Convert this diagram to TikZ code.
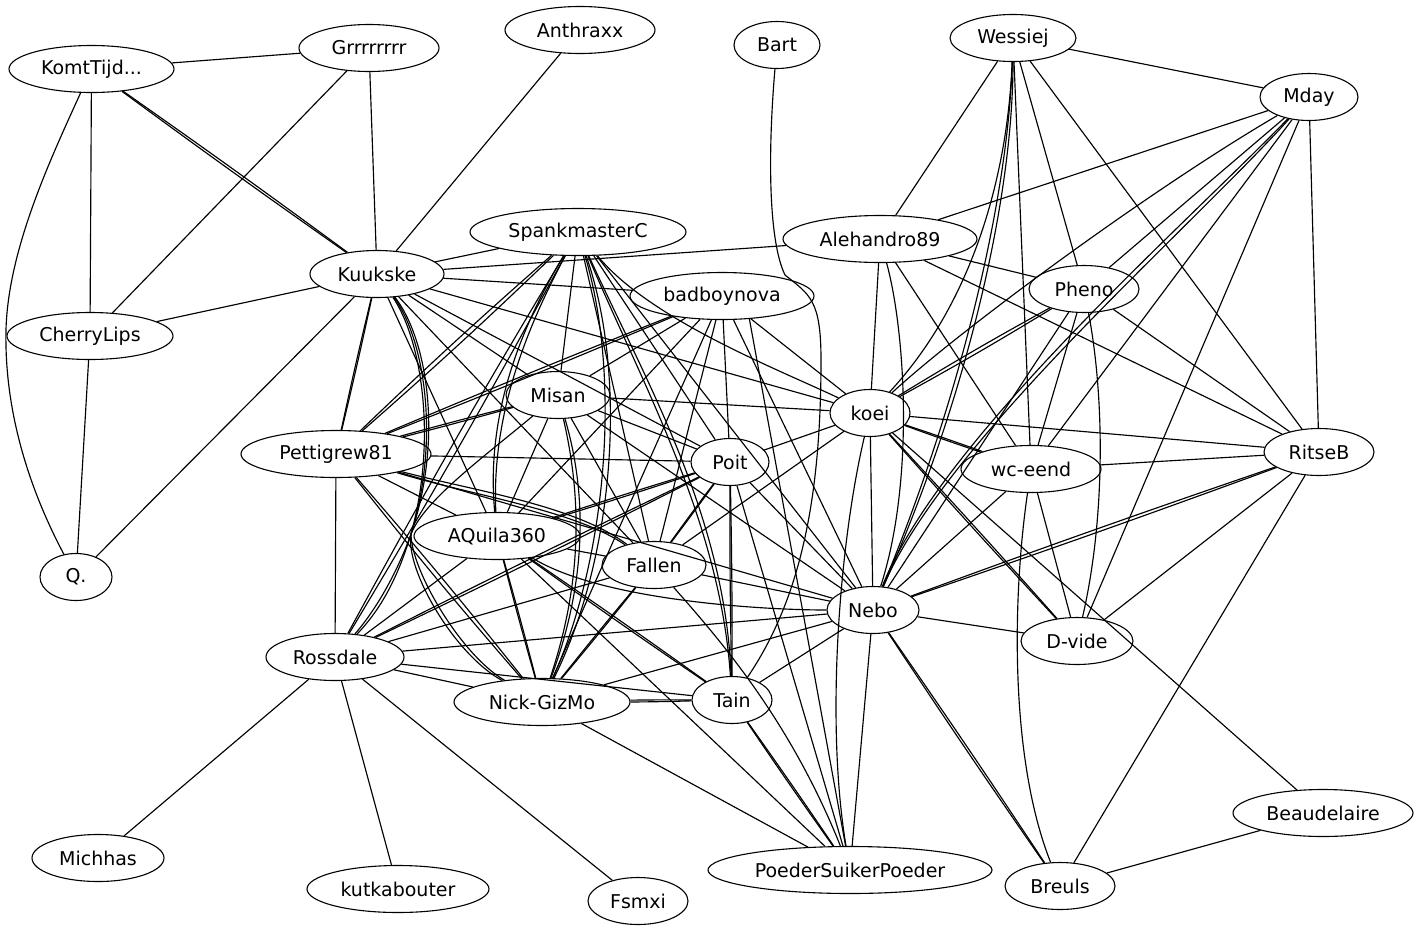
\documentclass[tikz,border=0pt]{standalone}
\usepackage{fontspec}
\setmainfont{DejaVu Sans}
\usetikzlibrary{shapes.geometric}
\newcommand\nlab[1]{\makebox[0pt]{#1}}
\newcommand\dbl[2]{\draw[e] (#1) to[bend left=0.6] (#2); \draw[e] (#1) to[bend right=0.6] (#2);}
\newcommand\dbls[2]{\draw[e] (#1) to[bend left=1.2] (#2); \draw[e] (#1) to[bend right=1.2] (#2);}
\begin{document}
\begin{tikzpicture}[x=1pt,y=-1pt,
  nd/.style={ellipse,draw,line width=1.1pt,inner sep=0pt,minimum height=47pt,font=\fontsize{19}{22}\selectfont},
  e/.style={line width=1.15pt}]
\useasboundingbox[fill=white] (0,0) rectangle (1421,932);
% nodes
\node[nd,minimum width=165pt] (kt) at (91.5,69) {\nlab{KomtTijd...}};
\node[nd,minimum width=140pt] (grr) at (369,48) {\nlab{Grrrrrrrr}};
\node[nd,minimum width=150pt] (anth) at (580,30) {\nlab{Anthraxx}};
\node[nd,minimum width=86pt] (bart) at (777,45) {\nlab{Bart}};
\node[nd,minimum width=126pt] (wes) at (1013,38) {\nlab{Wessiej}};
\node[nd,minimum width=98pt] (mday) at (1309,97) {\nlab{Mday}};
\node[nd,minimum width=216pt] (spank) at (578,232) {\nlab{SpankmasterC}};
\node[nd,minimum width=194pt] (ale) at (880,239) {\nlab{Alehandro89}};
\node[nd,minimum width=134pt] (kuuk) at (377,274) {\nlab{Kuukske}};
\node[nd,minimum width=184pt] (bad) at (722,296) {\nlab{badboynova}};
\node[nd,minimum width=110pt] (pheno) at (1084,289) {\nlab{Pheno}};
\node[nd,minimum width=166pt] (cherry) at (90,336) {\nlab{CherryLips}};
\node[nd,minimum width=104pt] (misan) at (558,395) {\nlab{Misan}};
\node[nd,minimum width=80pt] (koei) at (870,413) {\nlab{koei}};
\node[nd,minimum width=190pt] (pett) at (336,454) {\nlab{Pettigrew81}};
\node[nd,minimum width=78pt] (poit) at (730,462) {\nlab{Poit}};
\node[nd,minimum width=140pt] (wc) at (1031,469) {\nlab{wc-eend}};
\node[nd,minimum width=110pt] (rits) at (1319,452) {\nlab{RitseB}};
\node[nd,minimum width=166pt] (aq) at (497,536) {\nlab{AQuila360}};
\node[nd,minimum width=104pt] (fallen) at (654,565) {\nlab{Fallen}};
\node[nd,minimum width=72pt] (q) at (76,577) {\nlab{Q.}};
\node[nd,minimum width=92pt] (nebo) at (873,610) {\nlab{Nebo}};
\node[nd,minimum width=112pt] (dvide) at (1077,641) {\nlab{D-vide}};
\node[nd,minimum width=138pt] (ross) at (335,657) {\nlab{Rossdale}};
\node[nd,minimum width=176pt] (nick) at (542,702) {\nlab{Nick-GizMo}};
\node[nd,minimum width=80pt] (tain) at (732,700) {\nlab{Tain}};
\node[nd,minimum width=180pt] (beau) at (1323,813) {\nlab{Beaudelaire}};
\node[nd,minimum width=132pt] (mich) at (98,858) {\nlab{Michhas}};
\node[nd,minimum width=182pt] (kut) at (398,889) {\nlab{kutkabouter}};
\node[nd,minimum width=284pt] (psp) at (850,870) {\nlab{PoederSuikerPoeder}};
\node[nd,minimum width=110pt] (breuls) at (1060,886) {\nlab{Breuls}};
\node[nd,minimum width=100pt] (fsmxi) at (638,901) {\nlab{Fsmxi}};
\coordinate (ktq) at (6,330);
\coordinate (b1) at (785,275);
\coordinate (b2) at (821,360);
\coordinate (tip) at (411,534);
% single edges
\foreach \a/\b in {kt/grr, kt/cherry, grr/cherry, grr/kuuk, anth/kuuk, kuuk/cherry, kuuk/q, cherry/q,
  kuuk/spank, kuuk/ale, kuuk/bad, kuuk/misan, kuuk/poit, kuuk/koei, kuuk/fallen, kuuk/aq,
  spank/misan, spank/fallen, spank/poit, spank/nebo,
  bad/misan, bad/aq, bad/nick, bad/fallen, bad/poit, bad/nebo, bad/koei,
  misan/koei, misan/poit, misan/nebo, misan/fallen, misan/aq,
  pett/poit, pett/ross, pett/aq, pett/nebo,
  poit/koei, poit/nebo, poit/psp,
  koei/ale, koei/rits, koei/nebo, koei/fallen, koei/beau,
  ale/wes, ale/mday, ale/pheno, ale/wc, ale/rits,
  wes/mday, wes/wc, wes/pheno, wes/rits,
  mday/pheno, mday/wc, mday/dvide, mday/rits,
  pheno/nebo, pheno/wc, pheno/rits,
  wc/rits, wc/nebo, wc/dvide,
  rits/dvide, rits/breuls, dvide/nebo,
  nebo/fallen, nebo/ross, nebo/nick, nebo/tain, nebo/psp,
  fallen/aq, fallen/ross, aq/ross, aq/psp,
  ross/nick, ross/tain, ross/mich, ross/kut, ross/fsmxi,
  nick/psp, breuls/beau}
  {\draw[e] (\a) -- (\b);}
\draw[e] (bad.-40) -- (psp);
% double edges
\foreach \a/\b in {kt/kuuk, kuuk/pett, bad/pett, misan/pett,
  poit/aq, poit/fallen, poit/tain, poit/ross, koei/wc,
  koei/dvide, rits/nebo, nebo/breuls, fallen/nick, aq/nick, aq/tain, nick/tain, tain/psp}
  {\dbl{\a}{\b}}
\foreach \a/\b in {spank/pett, spank/ross, koei/pheno, pett/nick}
  {\dbls{\a}{\b}}
% curved edges
\draw[e] (kt) .. controls (50,160) and (8,250) .. (ktq) .. controls (4,420) and (35,500) .. (q);
\draw[e] (bart) .. controls (768,150) and (768,240) .. (b1) .. controls (810,295) and (821,300) .. (b2)
  .. controls (821,500) and (800,600) .. (tain);
\draw[e] (kuuk) .. controls (425,340) and (440,440) .. (tip) .. controls (400,570) and (385,605) .. (ross);
\draw[e] (kuuk) .. controls (422,340) and (437,440) .. (tip) .. controls (405,570) and (455,655) .. (nick);
\draw[e] (kuuk) .. controls (428,340) and (443,440) .. (tip) .. controls (411,570) and (461,655) .. (nick);
\draw[e] (misan) .. controls (480,460) and (425,500) .. (tip) .. controls (400,565) and (380,605) .. (ross);
\draw[e] (spank) .. controls (622,380) and (606,560) .. (nick);
\draw[e] (spank) .. controls (629,380) and (613,560) .. (nick);
\draw[e] (spank) .. controls (525,320) and (485,410) .. (aq);
\draw[e] (spank) .. controls (531,320) and (491,410) .. (aq);
\draw[e] (spank) .. controls (640,380) and (720,520) .. (tain);
\draw[e] (spank) .. controls (645,380) and (725,515) .. (tain);
\draw[e] (spank) .. controls (650,320) and (780,370) .. (koei);
\draw[e] (misan) .. controls (575,470) and (590,560) .. (nick);
\draw[e] (misan) .. controls (580,470) and (595,560) .. (nick);
\draw[e] (pett) .. controls (470,490) and (575,505) .. (fallen);
\draw[e] (pett) .. controls (470,495) and (575,510) .. (fallen);
\draw[e] (aq) .. controls (600,600) and (760,610) .. (nebo);
\draw[e] (fallen) .. controls (720,640) and (790,720) .. (psp);
\draw[e] (koei) .. controls (960,330) and (1150,190) .. (mday);
\draw[e] (wes) .. controls (1008,170) and (975,300) .. (koei);
\draw[e] (wes) .. controls (1008,200) and (960,400) .. (nebo);
\draw[e] (wes) .. controls (1013,200) and (966,400) .. (nebo);
\draw[e] (mday) .. controls (1180,230) and (940,440) .. (nebo);
\draw[e] (mday) .. controls (1185,234) and (946,440) .. (nebo);
\draw[e] (ale) .. controls (905,330) and (915,480) .. (nebo);
\draw[e] (pheno) .. controls (1105,400) and (1105,520) .. (dvide);
\draw[e] (wc) .. controls (1012,600) and (1010,760) .. (breuls);
\draw[e] (koei) .. controls (840,540) and (825,720) .. (psp);
\end{tikzpicture}
\end{document}
